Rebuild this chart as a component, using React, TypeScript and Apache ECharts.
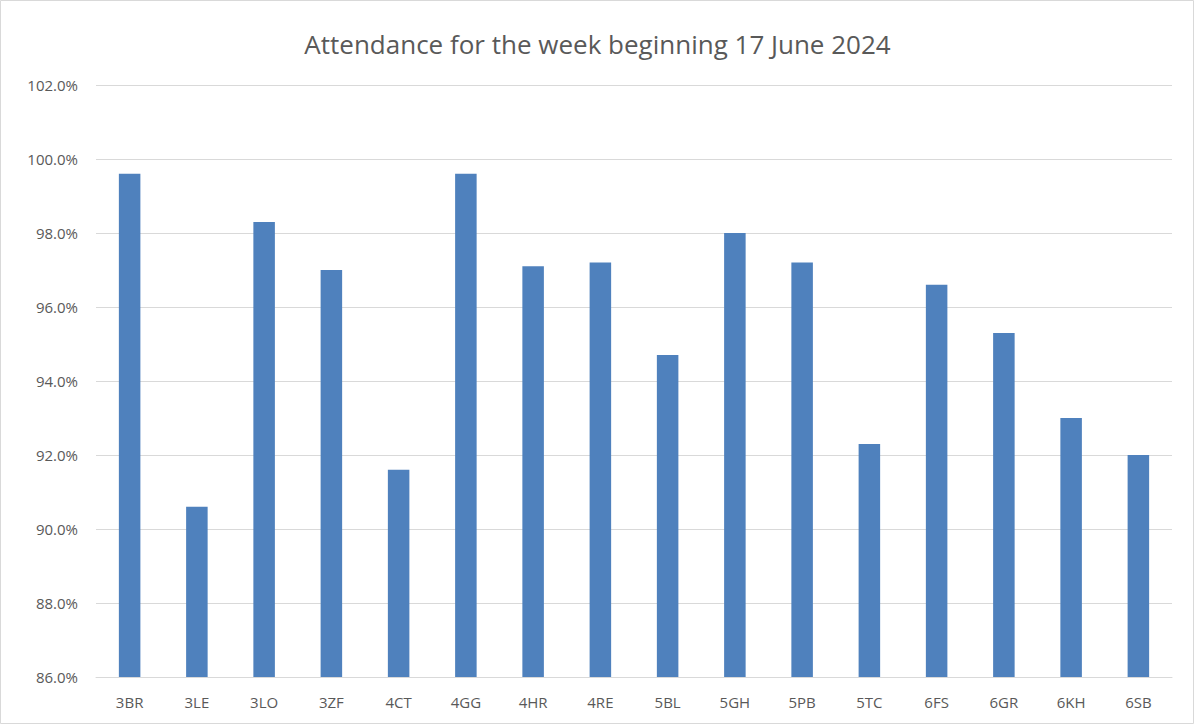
import React, { useEffect, useRef } from "react";
import * as echarts from "echarts";

const title = "Attendance for the week beginning 17 June 2024";
const categories = ["3BR", "3LE", "3LO", "3ZF", "4CT", "4GG", "4HR", "4RE", "5BL", "5GH", "5PB", "5TC", "6FS", "6GR", "6KH", "6SB"];
const attendance = [99.6, 90.6, 98.3, 97.0, 91.6, 99.6, 97.1, 97.2, 94.7, 98.0, 97.2, 92.3, 96.6, 95.3, 93.0, 92.0];
const yMin = 86;
const yMax = 102;
const yStep = 2;

export default function App() {
  const ref = useRef<HTMLDivElement>(null);
  useEffect(() => {
    document.body.style.margin = "0";
    const chart = echarts.init(ref.current!, undefined, { renderer: "svg" });
    chart.setOption({
      animation: false,
      backgroundColor: "#ffffff",
      title: {
        text: title,
        left: "center",
        top: 26,
        textStyle: { color: "#595959", fontSize: 26, fontWeight: "normal", fontFamily: "Open Sans" },
      },
      grid: { left: 96, right: 23, top: 85, bottom: 48 },
      xAxis: {
        type: "category",
        data: categories,
        axisLine: { lineStyle: { color: "#d9d9d9", width: 1 } },
        axisTick: { show: false },
        axisLabel: { color: "#595959", fontSize: 15, margin: 17, fontFamily: "Open Sans" },
      },
      yAxis: {
        type: "value",
        min: yMin,
        max: yMax,
        interval: yStep,
        axisLine: { show: false },
        axisTick: { show: false },
        splitLine: { lineStyle: { color: "#d9d9d9", width: 1 } },
        axisLabel: {
          color: "#595959",
          fontSize: 15,
          margin: 18,
          fontFamily: "Open Sans",
          formatter: (v: number) => v.toFixed(1) + "%",
        },
      },
      series: [
        {
          type: "bar",
          data: attendance,
          barWidth: "32%",
          itemStyle: { color: "#4f81bd" },
        },
      ],
      graphic: [
        {
          type: "rect",
          shape: { x: 0.5, y: 0.5, width: 1193, height: 723 },
          style: { fill: "none", stroke: "#d9d9d9", lineWidth: 1 },
          silent: true,
        },
      ],
    });
    return () => chart.dispose();
  }, []);
  return <div ref={ref} style={{ width: 1195, height: 725 }} />;
}
